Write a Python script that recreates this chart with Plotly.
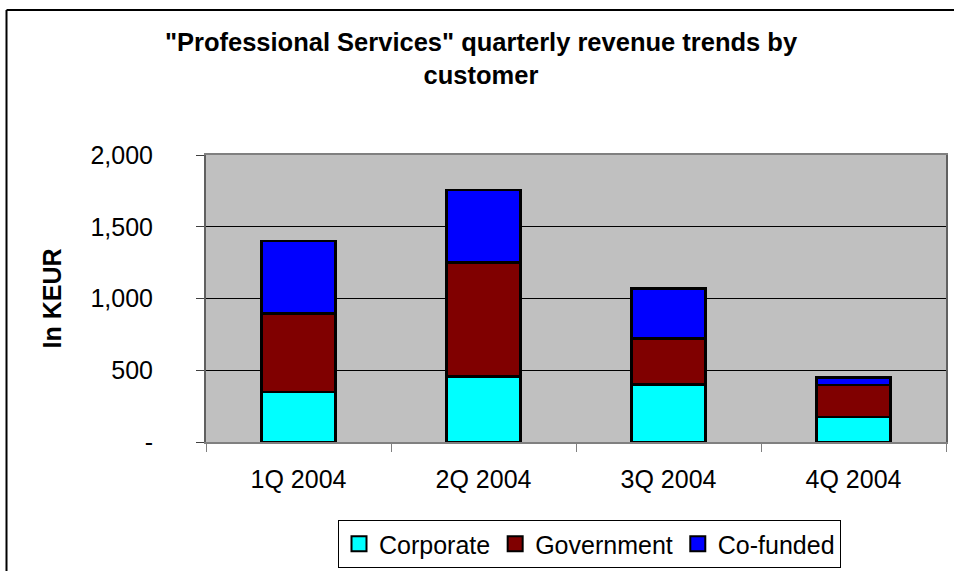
import plotly.graph_objects as go

# Quarterly revenue (KEUR) split by customer type
quarters = ["1Q 2004", "2Q 2004", "3Q 2004", "4Q 2004"]
corporate = [350, 455, 400, 175]
government = [545, 797, 323, 222]
co_funded = [505, 504, 348, 54]

series_names = ["Corporate", "Government", "Co-funded"]
series_colors = ["#00FFFF", "#800000", "#0000FF"]

y_tick_vals = [0, 500, 1000, 1500, 2000]
y_tick_text = ["-", "500", "1,000", "1,500", "2,000"]

FONT = "Liberation Sans, Arial, sans-serif"
W, H = 954, 571
L, R, T, B = 206, 8, 155, 129
PW, PH = W - L - R, H - T - B


def px_x(px):
    """Canvas x pixel -> paper coordinate."""
    return (px - L) / PW


def px_y(px):
    """Canvas y pixel (from top) -> paper coordinate."""
    return (H - B - px) / PH


fig = go.Figure()
for name, vals, col in zip(series_names, [corporate, government, co_funded], series_colors):
    fig.add_trace(go.Bar(
        x=quarters, y=vals, name=name, legendgroup=name, showlegend=False,
        marker=dict(color=col, line=dict(color="black", width=2.5)),
    ))

# larger square legend keys for each series
for name, col in zip(series_names, series_colors):
    fig.add_trace(go.Scatter(
        x=[None], y=[None], mode="markers", name=name, legendgroup=name,
        marker=dict(symbol="square", size=15, color=col, line=dict(color="black", width=2)),
        hoverinfo="skip",
    ))

# outer chart frame: left and top edges
frame = dict(color="black", width=2)
fig.add_shape(type="line", xref="paper", yref="paper",
              x0=px_x(6.5), x1=px_x(W), y0=px_y(10), y1=px_y(10), line=frame)
fig.add_shape(type="line", xref="paper", yref="paper",
              x0=px_x(6.5), x1=px_x(6.5), y0=px_y(10), y1=px_y(H), line=frame)

fig.update_layout(
    width=W, height=H,
    margin=dict(l=L, r=R, t=T, b=B, autoexpand=False),
    paper_bgcolor="white",
    plot_bgcolor="#C0C0C0",
    barmode="stack",
    bargap=0.6,
    font=dict(family=FONT, size=25, color="black"),
    title=dict(
        text='"Professional Services" quarterly revenue trends by<br>customer',
        font=dict(family=FONT, size=25.5, color="black", weight="bold"),
        x=481 / W, xanchor="center", xref="container",
        y=1 - 51 / H, yanchor="top", yref="container",
    ),
    xaxis=dict(
        type="category", automargin=False,
        showgrid=False,
        showline=True, linecolor="#808080", linewidth=2, mirror=True,
        ticks="outside", tickson="boundaries", ticklen=8, tickcolor="#808080", tickwidth=1,
        tickfont=dict(size=25),
        ticklabelstandoff=14,
    ),
    yaxis=dict(
        range=[0, 2000], automargin=False,
        tickvals=y_tick_vals, ticktext=y_tick_text,
        showgrid=True, gridcolor="black", gridwidth=1,
        zeroline=False,
        showline=True, linecolor="#606060", linewidth=2, mirror=True,
        ticks="outside", ticklen=8, tickcolor="#404040", tickwidth=1,
        tickfont=dict(size=25),
        ticklabelstandoff=38,
        title=dict(text="In KEUR", font=dict(size=25, weight="bold"), standoff=22),
    ),
    legend=dict(
        orientation="h", traceorder="normal",
        xref="container", x=589.5 / W, xanchor="center",
        yref="container", y=1 - 520 / H, yanchor="top",
        bgcolor="white", bordercolor="black", borderwidth=1,
        font=dict(size=25),
    ),
)

fig.write_html("out.html")
